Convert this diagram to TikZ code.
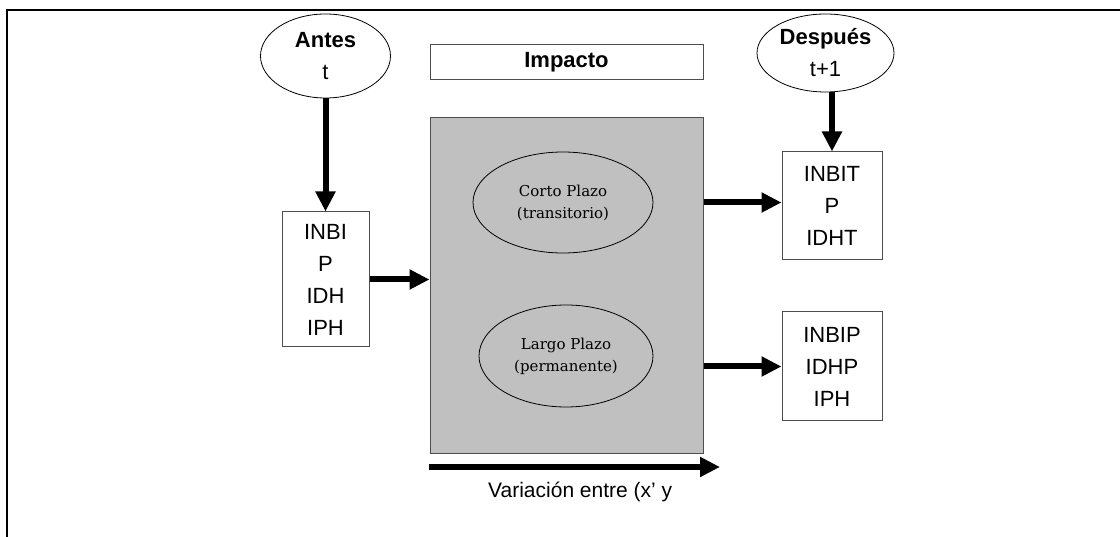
\documentclass[tikz,border=0pt]{standalone}
\usepackage{fontspec}
\setmainfont{Liberation Sans}
\newfontfamily\serifo{DejaVu Serif}
\usetikzlibrary{shapes.geometric,arrows.meta}
\definecolor{boxgray}{HTML}{C0C0C0}
\definecolor{edgegray}{HTML}{4D4D4D}
\tikzset{
  bigtext/.style={font=\fontsize{22}{32}\selectfont, align=center, inner sep=0pt},
  smalltext/.style={font=\serifo\fontsize{15}{22}\selectfont, align=center, inner sep=0pt},
  oval/.style={ellipse, draw=black, line width=0.8pt},
  whitebox/.style={rectangle, draw=edgegray, line width=1pt, fill=white},
  bigarrow/.style={line width=6pt, -{Triangle[width=19pt,length=20pt]}},
  frameline/.style={line width=2pt, black},
}
\begin{document}
\begin{tikzpicture}[x=1pt,y=-1pt]
\useasboundingbox (0,0) rectangle (1120,537);
% frame
\coordinate (ftl) at (7,10);
\coordinate (ftr) at (1120,10);
\coordinate (fbl) at (7,537);
\draw[frameline] (ftr) -- (ftl) -- (fbl);

% big gray box and header
\node[rectangle, draw=edgegray, line width=1pt, fill=boxgray, minimum width=273pt, minimum height=335pt, inner sep=0pt] (gray) at (566.5,285.5) {};
\node[whitebox, minimum width=273pt, minimum height=35pt, bigtext] (impacto) at (566.5,62.5) {\textbf{Impacto}};

% ellipses inside
\node[oval, minimum width=180pt, minimum height=101pt, smalltext] (corto) at (563,202.5) {Corto Plazo\\(transitorio)};
\node[oval, minimum width=174pt, minimum height=102pt, smalltext] (largo) at (566,356) {Largo Plazo\\(permanente)};

% before / after
\node[oval, minimum width=130pt, minimum height=84pt, bigtext] (antes) at (325.5,56) {\textbf{Antes}\\t};
\node[oval, minimum width=137pt, minimum height=78pt, bigtext] (despues) at (825.5,53) {\textbf{Después}\\t+1};

% boxes
\node[whitebox, minimum width=87pt, minimum height=135pt, bigtext] (inbi) at (325.5,279.5) {INBI\\P\\IDH\\IPH};
\node[whitebox, minimum width=100pt, minimum height=108pt, bigtext] (inbit) at (832,206) {INBIT\\P\\IDHT};
\node[whitebox, minimum width=100pt, minimum height=109pt, bigtext] (inbip) at (832,366.5) {INBIP\\IDHP\\IPH};

% arrows
\draw[bigarrow] (antes) -- (inbi);
\draw[bigarrow] (inbi.east) -- (inbi.east -| gray.west);
\draw[bigarrow] (despues.south -| inbit.north) -- (inbit.north);
\draw[bigarrow] (gray.east |- corto) -- (inbit.west |- corto);
\draw[bigarrow] (gray.east |- inbip) -- (inbip.west);

% bottom arrow and label
\coordinate (vstart) at (429,467);
\coordinate (vend) at (720,467);
\draw[bigarrow] (vstart) -- (vend);
\node[anchor=base west, font=\fontsize{21}{24}\selectfont, inner sep=0pt] (var) at (488,497) {Variación entre (x’ y};
\end{tikzpicture}
\end{document}
